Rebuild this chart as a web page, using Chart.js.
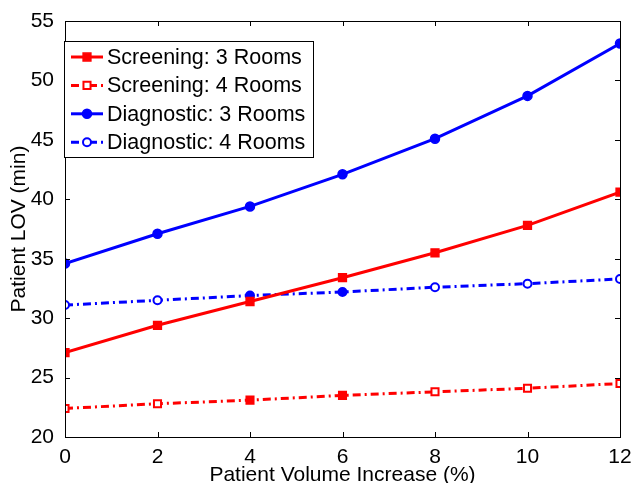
<!DOCTYPE html>
<html>
<head>
<meta charset="utf-8">
<script src="https://cdn.jsdelivr.net/npm/chart.js@4/dist/chart.umd.min.js"></script>
<style>
  html, body { margin: 0; padding: 0; background: #fff; }
  #wrap { width: 633px; height: 483px; }
</style>
</head>
<body>
<div id="wrap"><canvas id="chart" width="633" height="483"></canvas></div>
<script>
// --- data ---
const volumeIncrease = [0, 2, 4, 6, 8, 10, 12];
const screening3 = [27.1, 29.4, 31.4, 33.4, 35.5, 37.8, 40.6];
const screening4 = [22.4, 22.8, 23.1, 23.5, 23.8, 24.1, 24.5];
const diagnostic3 = [34.6, 37.1, 39.4, 42.1, 45.1, 48.7, 53.1];
const diagnostic4 = [31.1, 31.5, 31.9, 32.2, 32.6, 32.9, 33.3];
const seriesLabels = ['Screening: 3 Rooms', 'Screening: 4 Rooms', 'Diagnostic: 3 Rooms', 'Diagnostic: 4 Rooms'];

const FONT = 'Liberation Sans, Arial, Helvetica, sans-serif';
const FONT_SIZE = 21;
const dashDot = [8, 4, 2, 4];

// markers on the dash-dot series are mostly hollow, a couple render filled
const hollowRed = ['#fff', '#fff', '#f00', '#f00', '#fff', '#fff', '#fff'];
const hollowBlue = ['#fff', '#fff', '#00f', '#00f', '#fff', '#fff', '#fff'];

function toPoints(ys) {
    return ys.map((y, i) => ({ x: volumeIncrease[i], y: y }));
}

// box round the plot area with inward tick marks (Matlab style)
const boxPlugin = {
    id: 'box',
    afterDatasetsDraw(chart) {
        const { ctx, chartArea: a, scales } = chart;
        ctx.save();
        ctx.strokeStyle = '#000';
        ctx.lineWidth = 1;
        ctx.beginPath();
        scales.x.ticks.forEach(t => {
            const px = Math.round(scales.x.getPixelForValue(t.value)) + 0.5;
            ctx.moveTo(px, a.bottom); ctx.lineTo(px, a.bottom - 5);
            ctx.moveTo(px, a.top); ctx.lineTo(px, a.top + 5);
        });
        scales.y.ticks.forEach(t => {
            const py = Math.round(scales.y.getPixelForValue(t.value)) + 0.5;
            ctx.moveTo(a.left, py); ctx.lineTo(a.left + 5, py);
            ctx.moveTo(a.right, py); ctx.lineTo(a.right - 5, py);
        });
        ctx.stroke();
        ctx.strokeRect(Math.round(a.left) + 0.5, Math.round(a.top) + 0.5,
            Math.round(a.right - a.left), Math.round(a.bottom - a.top));
        ctx.restore();
    }
};

// legend drawn inside the plot, top-left, with a black frame
const legendPlugin = {
    id: 'boxLegend',
    afterDraw(chart) {
        const { ctx, chartArea: a } = chart;
        const x0 = a.left - 1, y0 = a.top + 20, w = 249, h = 116, rowH = 28.4;
        ctx.save();
        ctx.fillStyle = '#fff';
        ctx.fillRect(x0, y0, w, h);
        ctx.strokeStyle = '#000';
        ctx.lineWidth = 1;
        ctx.strokeRect(x0 + 0.5, y0 + 0.5, w, h);
        chart.data.datasets.forEach((ds, i) => {
            const cy = y0 + 16 + i * rowH;
            ctx.strokeStyle = ds.borderColor;
            ctx.lineWidth = ds.borderWidth;
            ctx.setLineDash(ds.borderDash || []);
            ctx.beginPath();
            ctx.moveTo(x0 + 7, cy); ctx.lineTo(x0 + 39, cy);
            ctx.stroke();
            ctx.setLineDash([]);
            const fill = Array.isArray(ds.pointBackgroundColor) ? ds.pointBackgroundColor[0] : ds.pointBackgroundColor;
            ctx.fillStyle = fill;
            ctx.strokeStyle = ds.borderColor;
            ctx.lineWidth = ds.pointBorderWidth;
            ctx.beginPath();
            if (ds.pointStyle === 'rect') {
                const s = Math.SQRT1_2 * ds.pointRadius;
                ctx.rect(x0 + 23 - s, cy - s, 2 * s, 2 * s);
            } else {
                ctx.arc(x0 + 23, cy, ds.pointRadius, 0, Math.PI * 2);
            }
            ctx.fill();
            ctx.stroke();
            ctx.fillStyle = '#000';
            ctx.font = '21.5px ' + FONT;
            ctx.textBaseline = 'middle';
            ctx.textAlign = 'left';
            ctx.fillText(ds.label, x0 + 43, cy + 1);
        });
        ctx.restore();
    }
};

new Chart(document.getElementById('chart'), {
    type: 'line',
    data: {
        datasets: [
            {
                label: seriesLabels[0], data: toPoints(screening3),
                borderColor: '#f00', backgroundColor: '#f00', borderWidth: 3,
                pointStyle: 'rect', pointRadius: 5.5, pointBorderWidth: 1.5,
                pointBackgroundColor: '#f00', pointBorderColor: '#f00'
            },
            {
                label: seriesLabels[1], data: toPoints(screening4),
                borderColor: '#f00', backgroundColor: '#f00', borderWidth: 3, borderDash: dashDot,
                pointStyle: 'rect', pointRadius: 5, pointBorderWidth: 2,
                pointBackgroundColor: hollowRed, pointBorderColor: '#f00'
            },
            {
                label: seriesLabels[2], data: toPoints(diagnostic3),
                borderColor: '#00f', backgroundColor: '#00f', borderWidth: 3,
                pointStyle: 'circle', pointRadius: 4.5, pointBorderWidth: 1.5,
                pointBackgroundColor: '#00f', pointBorderColor: '#00f'
            },
            {
                label: seriesLabels[3], data: toPoints(diagnostic4),
                borderColor: '#00f', backgroundColor: '#00f', borderWidth: 3, borderDash: dashDot,
                pointStyle: 'circle', pointRadius: 4, pointBorderWidth: 2,
                pointBackgroundColor: hollowBlue, pointBorderColor: '#00f'
            }
        ]
    },
    options: {
        responsive: false,
        animation: false,
        layout: { padding: { top: 21, right: 13, left: 0, bottom: 0 } },
        plugins: {
            legend: { display: false },
            tooltip: { enabled: false }
        },
        scales: {
            x: {
                type: 'linear', min: 0, max: 12,
                ticks: { stepSize: 2, color: '#000', font: { family: FONT, size: FONT_SIZE }, padding: 0, maxRotation: 0 },
                grid: { display: false },
                border: { display: false },
                title: { display: true, text: 'Patient Volume Increase (%)', color: '#000',
                    font: { family: FONT, size: FONT_SIZE }, padding: { top: 0, bottom: -5 } },
                afterFit(scale) {
                    scale.height = 46;
                    scale.paddingLeft = 0;
                    scale.paddingRight = 0;
                }
            },
            y: {
                min: 20, max: 55,
                ticks: { stepSize: 5, color: '#000', font: { family: FONT, size: FONT_SIZE }, padding: 3 },
                grid: { display: false },
                border: { display: false },
                title: { display: true, text: 'Patient LOV (min)', color: '#000',
                    font: { family: FONT, size: FONT_SIZE }, padding: { top: 7, bottom: 0 } },
                afterFit(scale) {
                    scale.width = 65;
                    scale.paddingTop = 0;
                    scale.paddingBottom = 0;
                }
            }
        }
    },
    plugins: [boxPlugin, legendPlugin]
});
</script>
</body>
</html>
